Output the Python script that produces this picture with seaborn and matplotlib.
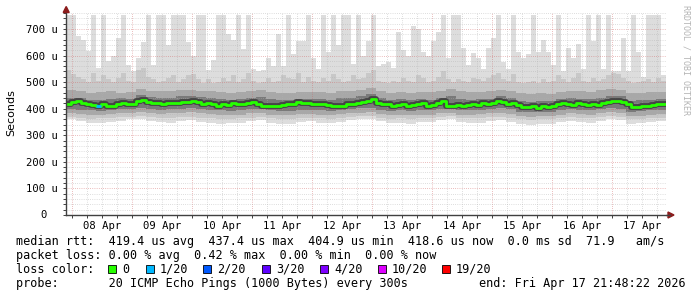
import matplotlib
matplotlib.use("Agg")
import matplotlib.pyplot as plt
import matplotlib.dates as mdates
from matplotlib.ticker import MultipleLocator, FuncFormatter, NullFormatter
from matplotlib.patches import Polygon, Rectangle
from matplotlib.lines import Line2D
import numpy as np
import pandas as pd
import seaborn as sns
from datetime import datetime, timedelta

# ---------------- data ----------------
start = datetime(2026, 4, 7, 21, 48, 22)
end = datetime(2026, 4, 17, 21, 48, 22)

# median rtt (microseconds), 2-hour bins
med = [418, 425, 428, 420, 418, 415, 412, 416, 410, 412, 416, 420,
       416, 418, 428, 432, 425, 420, 420, 418, 420, 422, 420, 425,
       427, 428, 425, 418, 420, 418, 412, 418, 415, 420, 418, 418,
       420, 425, 418, 412, 410, 412, 410, 414, 416, 418, 425, 422,
       420, 418, 418, 416, 414, 410, 410, 412, 416, 418, 420, 424,
       428, 435, 420, 416, 416, 412, 414, 416, 410, 414, 416, 420,
       410, 415, 422, 428, 412, 412, 414, 412, 414, 416, 414, 420,
       416, 420, 428, 425, 418, 422, 415, 405, 408, 410, 404, 410,
       405, 410, 418, 420, 418, 414, 420, 416, 414, 418, 415, 420,
       425, 430, 428, 426, 418, 408, 406, 410, 412, 414, 418, 416]

# max ping per 2-hour bin
hi = [752, 752, 673, 660, 617, 752, 553, 752, 580, 600, 665, 752, 565, 540, 590, 650, 752, 565, 752, 752,
      640, 752, 752, 752, 650, 600, 752, 752, 545, 585, 752, 752, 680, 660, 752, 625, 752, 550, 540, 545,
      590, 560, 680, 560, 752, 605, 655, 655, 752, 590, 550, 752, 615, 752, 640, 752, 752, 570, 752, 600,
      655, 752, 560, 570, 575, 555, 690, 620, 600, 710, 700, 615, 600, 655, 690, 752, 590, 752, 752, 630,
      566, 610, 590, 550, 630, 665, 752, 575, 550, 752, 615, 590, 605, 752, 615, 660, 615, 565, 752, 540,
      630, 590, 645, 550, 752, 655, 752, 550, 752, 540, 540, 665, 540, 752, 615, 520, 752, 752, 752, 528]

# upper smoke band 2 (2-hour bins)
hi2 = [545, 530, 520, 510, 500, 535, 505, 525, 510, 500, 515, 535,
       505, 500, 545, 555, 520, 510, 500, 505, 515, 525, 500, 510,
       525, 530, 510, 495, 510, 495, 500, 515, 505, 525, 500, 510,
       535, 505, 495, 500, 515, 500, 505, 525, 515, 510, 535, 500,
       520, 505, 500, 515, 505, 530, 510, 500, 505, 525, 510, 515,
       535, 545, 505, 500, 495, 505, 500, 515, 505, 500, 525, 515,
       500, 505, 520, 540, 510, 500, 510, 505, 500, 515, 510, 505,
       515, 525, 535, 510, 505, 530, 500, 495, 500, 505, 495, 510,
       500, 505, 525, 510, 500, 515, 535, 505, 500, 515, 505, 510,
       525, 535, 530, 515, 505, 495, 500, 505, 510, 500, 515, 505]

# inner bands, 4-hour bins
hi3 = [472, 466, 460, 462, 466, 458, 462, 476, 468, 465, 466, 470,
       472, 468, 465, 462, 460, 464, 466, 470, 462, 460, 458, 462,
       464, 462, 460, 466, 468, 472, 478, 466, 460, 462, 460, 464,
       462, 468, 474, 465, 462, 464, 466, 472, 468, 458, 455, 458,
       456, 462, 468, 466, 464, 470, 474, 470, 458, 460, 462, 464]
hi4 = [442, 440, 432, 434, 438, 440, 438, 452, 444, 440, 442, 446,
       448, 444, 440, 436, 432, 436, 440, 444, 436, 432, 434, 438,
       438, 436, 432, 440, 442, 448, 455, 440, 434, 436, 432, 438,
       434, 442, 448, 436, 434, 436, 438, 446, 440, 428, 426, 430,
       428, 436, 440, 438, 436, 440, 448, 446, 430, 432, 434, 438]
lo4 = [398, 396, 394, 392, 396, 398, 400, 404, 398, 396, 398, 400,
       402, 398, 396, 394, 392, 394, 398, 400, 394, 392, 392, 396,
       396, 394, 392, 396, 398, 402, 404, 396, 392, 394, 392, 394,
       394, 398, 402, 394, 394, 396, 398, 402, 398, 388, 386, 388,
       388, 396, 398, 396, 394, 398, 404, 400, 388, 390, 394, 396]
lo3 = [382, 380, 378, 376, 380, 382, 384, 386, 382, 380, 382, 384,
       386, 382, 380, 378, 376, 378, 382, 384, 378, 376, 376, 380,
       380, 378, 376, 380, 382, 384, 386, 380, 376, 378, 376, 378,
       378, 382, 384, 378, 378, 380, 382, 384, 380, 372, 370, 372,
       372, 378, 382, 380, 378, 382, 386, 384, 372, 374, 378, 380]
lo2 = [368, 366, 362, 364, 366, 368, 370, 372, 368, 366, 364, 368,
       370, 366, 364, 362, 362, 364, 366, 370, 364, 362, 360, 364,
       366, 364, 362, 364, 368, 372, 374, 366, 362, 364, 362, 364,
       364, 368, 372, 366, 364, 366, 368, 370, 366, 360, 358, 360,
       360, 364, 368, 366, 364, 368, 372, 370, 360, 362, 364, 366]
lo = [362, 352, 345, 346, 350, 355, 360, 362, 355, 350, 348, 352,
      356, 350, 346, 344, 345, 348, 352, 356, 346, 344, 342, 350,
      352, 348, 346, 350, 356, 360, 362, 352, 345, 348, 344, 350,
      350, 356, 360, 350, 346, 348, 352, 356, 350, 342, 340, 342,
      342, 350, 355, 350, 348, 352, 360, 356, 342, 345, 350, 352]

# packet loss events: bin index and lost pings (of 20)
loss_bins = [6]
loss_counts = [1]

y_ticks = [0, 100, 200, 300, 400, 500, 600, 700]
day_labels = ["08 Apr", "09 Apr", "10 Apr", "11 Apr", "12 Apr",
              "13 Apr", "14 Apr", "15 Apr", "16 Apr", "17 Apr"]

loss_names = ["0", "1/20", "2/20", "3/20", "4/20", "10/20", "19/20"]
loss_colors = ["#26ff00", "#00b8ff", "#0059ff", "#5e00ff", "#7e00ff", "#dd00ff", "#ff0000"]
loss_levels = [0, 1, 2, 3, 4, 10, 19]

legend_lines = [
    "median rtt:  419.4 us avg  437.4 us max  404.9 us min  418.6 us now  0.0 ms sd  71.9   am/s",
    "packet loss: 0.00 % avg  0.42 % max  0.00 % min  0.00 % now",
    "loss color:",
    "probe:       20 ICMP Echo Pings (1000 Bytes) every 300s",
]
end_text = "end: Fri Apr 17 21:48:22 2026"

# ---------------- build tables ----------------
def edges(n, hours):
    return [start + timedelta(hours=hours * i) for i in range(n + 1)]

t2 = edges(len(med), 2)
t4 = edges(len(hi3), 4)
ext = lambda a: list(a) + [a[-1]]

df_med = pd.DataFrame({"time": t2, "rtt": ext(med)})

# ---------------- figure ----------------
sns.set_theme(style="white")
plt.rcParams["font.family"] = ["DejaVu Sans Mono", "DejaVu Sans"]

W, H = 697, 297
fig = plt.figure(figsize=(W / 100, H / 100), dpi=100)
fig.patch.set_facecolor("white")
X0, X1, Y0, Y1 = 66.2, 666.2, 215.0, 11.7
ax = fig.add_axes([X0 / W, 1 - Y0 / H, (X1 - X0) / W, (Y0 - Y1) / H])
ax.set_facecolor("white")

YMAX = 765
ax.set_xlim(start, end)
ax.set_ylim(0, YMAX)

base = 420
# outer smoke
ax.fill_between(t2, base, ext(hi), step="post", color="#dddddd", lw=0, zorder=1)
ax.fill_between(t4, ext(lo), base, step="post", color="#dddddd", lw=0, zorder=1)
# band 2
ax.fill_between(t2, base, ext(hi2), step="post", color="#c8c8c8", lw=0, zorder=1.1)
ax.fill_between(t4, ext(lo2), base, step="post", color="#c8c8c8", lw=0, zorder=1.1)
# band 3
ax.fill_between(t4, ext(lo3), ext(hi3), step="post", color="#a8a8a8", lw=0, zorder=1.2)
# band 4
ax.fill_between(t4, ext(lo4), ext(hi4), step="post", color="#7a7a7a", lw=0, zorder=1.3)

# dark core and median line
sns.lineplot(data=df_med, x="time", y="rtt", ax=ax, color="#454545", lw=4.2,
             drawstyle="steps-post", zorder=3, legend=False)
sns.lineplot(data=df_med, x="time", y="rtt", ax=ax, color=loss_colors[0], lw=2.0,
             drawstyle="steps-post", zorder=4, legend=False)
for b, c in zip(loss_bins, loss_counts):
    col = loss_colors[max(i for i, l in enumerate(loss_levels) if l <= c)]
    ax.hlines(med[b], t2[b], t2[b + 1], color=col, lw=2.0, zorder=5)

# grid
ax.xaxis.set_major_locator(mdates.HourLocator(byhour=[0]))
ax.xaxis.set_minor_locator(mdates.HourLocator(byhour=[6, 12, 18]))
ax.xaxis.set_major_formatter(NullFormatter())
lab_map = {}
for i, lab in enumerate(day_labels):
    lab_map[(datetime(2026, 4, 8) + timedelta(days=i, hours=12)).date()] = lab

def xfmt(v, pos):
    d = mdates.num2date(v)
    if d.hour == 12:
        return lab_map.get(d.date(), "")
    return ""

ax.xaxis.set_minor_formatter(FuncFormatter(xfmt))
ax.yaxis.set_minor_locator(MultipleLocator(20))
ax.set_yticks(y_ticks)
ax.set_yticklabels([("%d u" % v) if v else "" for v in y_ticks])
# the zero label has no unit, so it sits two character cells further left
ax.annotate("0", xy=(0, 0), xycoords=("axes fraction", "data"),
            xytext=(-13.8, 0), textcoords="offset points", ha="right", va="center",
            fontsize=7.6, color="black", annotation_clip=False)

ax.set_axisbelow(False)
ax.grid(which="minor", color="#b0b0b0", alpha=0.55, lw=0.72, linestyle=(0, (0.72, 1.44)))
ax.grid(which="major", color="#d06060", alpha=0.55, lw=0.72, linestyle=(0, (0.72, 1.44)))

for s in ["top", "right"]:
    ax.spines[s].set_visible(False)
for s in ["left", "bottom"]:
    ax.spines[s].set_color("#404040")
    ax.spines[s].set_linewidth(1.0)
    ax.spines[s].set_zorder(6)

ax.tick_params(axis="both", which="both", direction="out", length=2, width=0.7,
               color="#404040", left=True, bottom=True)
ax.tick_params(axis="y", which="major", labelsize=7.6, pad=4.3, labelcolor="black")
ax.tick_params(axis="x", which="minor", labelsize=7.6, pad=2.5, labelcolor="black")
ax.set_xlabel("")
ax.set_ylabel("")

def P(x, y):
    return (x / W, 1 - y / H)

# arrows
fig.add_artist(Line2D([X1 / W, 670 / W], [1 - Y0 / H] * 2, color="#404040", lw=1.0,
                      transform=fig.transFigure))
fig.add_artist(Polygon([P(66.2, 6.5), P(63.2, 12.5), P(69.2, 12.5)], closed=True,
                       color="#8b1c1c", transform=fig.transFigure))
fig.add_artist(Polygon([P(674, 215), P(668, 212), P(668, 218)], closed=True,
                       color="#8b1c1c", transform=fig.transFigure))

# y label
fig.text(11 / W, 1 - 113 / H, "Seconds", rotation=90, ha="center", va="center",
         fontsize=8, family="DejaVu Sans", color="black")

# watermark
fig.text(686 / W, 1 - 5 / H, "RRDTOOL / TOBI OETIKER", rotation=270, ha="center",
         va="top", fontsize=6.0, color="#b4b4b4")

# legend text
FS = 8.45
baselines = [245, 259, 273, 287]
for txt, yb in zip(legend_lines, baselines):
    fig.text(16 / W, 1 - yb / H, txt, ha="left", va="baseline", fontsize=FS, color="black")
fig.text(479 / W, 1 - 287 / H, end_text, ha="left", va="baseline", fontsize=FS, color="black")

box_x = [108, 146, 203, 262, 320, 378, 442]
for bx, name, colr in zip(box_x, loss_names, loss_colors):
    fig.add_artist(Rectangle(P(bx, 272.5), 8 / W, 8 / H, facecolor=colr,
                             edgecolor="black", lw=0.6, transform=fig.transFigure))
    fig.text((bx + 14) / W, 1 - 273 / H, name, ha="left", va="baseline", fontsize=FS,
             color="black")

fig.savefig("out.png", dpi=100)
